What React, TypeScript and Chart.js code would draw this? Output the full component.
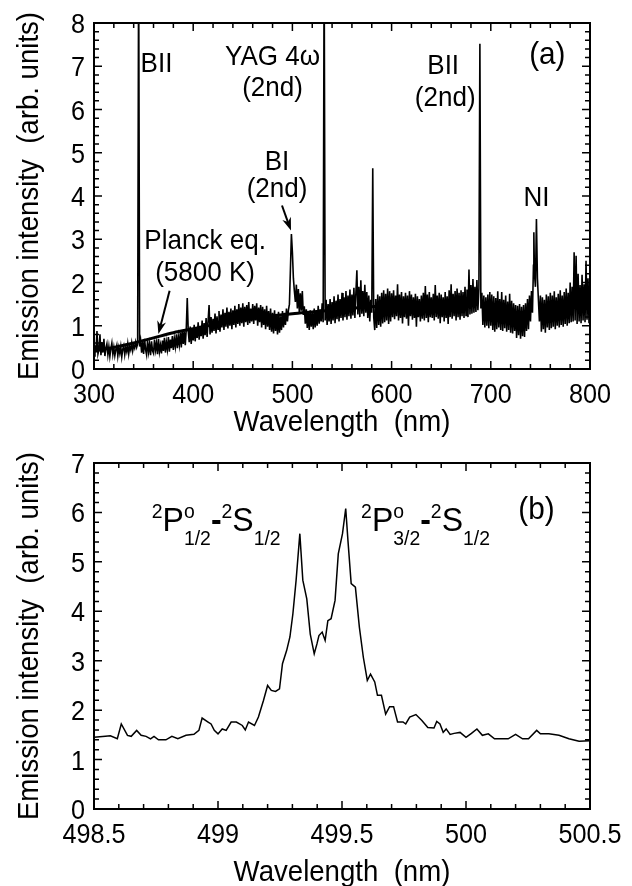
import React, { useEffect, useRef } from 'react';
import { Chart, registerables } from 'chart.js';
Chart.register(...registerables);

const FONT = "'Liberation Sans', Arial, Helvetica, sans-serif";

// ---------- Panel (a) data: spectrum sampled every 1 nm from 300 nm ----------
const specStartA = 300;
const specStepA = 1;
const specValsA = [
  0.30, 0.55, 0.40, 0.88, 0.35, 0.45, 0.80, 0.32, 0.62, 0.38,
  0.70, 0.30, 0.48, 0.58, 0.33, 0.52, 0.29, 0.47, 0.60, 0.34,
  0.50, 0.31, 0.45, 0.55, 0.30, 0.49, 0.36, 0.52, 0.28, 0.46,
  0.54, 0.33, 0.50, 0.40, 0.58, 0.35, 0.52, 0.44, 0.60, 0.42,
  0.55, 0.48, 0.62, 0.50, 0.58, 0.60, 0.52, 0.66, 0.38, 0.62,
  0.35, 0.70, 0.45, 0.33, 0.66, 0.40, 0.58, 0.32, 0.64, 0.42,
  0.36, 0.68, 0.44, 0.60, 0.34, 0.70, 0.40, 0.55, 0.36, 0.66,
  0.42, 0.72, 0.38, 0.62, 0.45, 0.74, 0.40, 0.68, 0.48, 0.76,
  0.44, 0.70, 0.52, 0.80, 0.48, 0.75, 0.56, 0.84, 0.50, 0.90,
  0.58, 0.86, 0.55, 0.92, 0.60, 0.88, 0.62, 0.98, 0.58, 0.94,
  0.66, 1.02, 0.64, 0.96, 0.72, 1.08, 0.68, 1.00, 0.76, 1.12,
  0.70, 1.06, 0.78, 1.18, 0.74, 1.10, 1.48, 0.80, 1.20, 0.84,
  1.16, 0.88, 1.28, 0.82, 1.22, 0.92, 1.34, 0.86, 1.26, 0.96,
  1.38, 0.90, 1.30, 0.98, 1.42, 0.94, 1.32, 1.00, 1.40, 0.92,
  1.36, 1.02, 1.46, 0.96, 1.38, 1.04, 1.50, 1.00, 1.42, 1.06,
  1.52, 0.98, 1.44, 1.08, 1.48, 1.02, 1.55, 1.06, 1.40, 1.10,
  1.50, 1.04, 1.46, 1.12, 1.52, 1.00, 1.42, 1.08, 1.48, 0.96,
  1.44, 1.02, 1.38, 0.92, 1.46, 0.98, 1.34, 0.90, 1.40, 0.86,
  1.30, 0.82, 1.36, 0.88, 1.26, 0.80, 1.32, 0.84, 1.22, 0.90,
  1.34, 0.96, 1.30, 1.02, 1.40, 1.10, 1.36, 1.50, 2.30, 2.60,
  2.70, 2.10, 1.80, 1.55, 1.95, 1.40, 1.85, 1.30, 1.75, 1.35,
  1.80, 1.25, 1.45, 1.05, 1.38, 0.95, 1.32, 0.90, 1.36, 0.98,
  1.30, 0.92, 1.40, 0.96, 1.34, 1.00, 1.46, 1.05, 1.38, 1.10,
  1.52, 1.08, 1.40, 1.12, 1.60, 1.02, 1.50, 1.10, 1.62, 1.04,
  1.55, 1.12, 1.68, 1.06, 1.58, 1.15, 1.72, 1.10, 1.62, 1.18,
  1.76, 1.12, 1.66, 1.20, 1.80, 1.14, 1.70, 1.22, 1.84, 1.16,
  1.72, 1.24, 1.88, 1.18, 1.76, 2.28, 1.26, 1.90, 1.20, 2.05,
  1.28, 1.80, 1.22, 1.95, 1.30, 1.78, 1.18, 1.70, 1.10, 1.60,
  1.30, 3.00, 1.20, 0.90, 1.62, 0.95, 1.72, 1.02, 1.68, 0.98,
  1.76, 1.05, 1.82, 1.08, 1.74, 1.12, 1.86, 1.04, 1.80, 1.10,
  1.75, 1.20, 1.82, 1.15, 1.70, 1.22, 1.96, 1.12, 1.72, 1.18,
  1.78, 1.05, 1.68, 1.20, 1.76, 1.16, 1.70, 1.00, 1.80, 1.22,
  1.72, 1.14, 1.66, 1.18, 1.74, 0.98, 1.68, 1.20, 1.62, 1.10,
  1.70, 1.16, 1.76, 1.12, 1.92, 1.18, 1.72, 1.08, 1.78, 1.20,
  1.66, 1.18, 1.74, 1.12, 1.94, 1.20, 1.70, 1.16, 1.76, 1.06,
  1.72, 1.20, 1.66, 1.10, 1.78, 1.18, 1.68, 1.04, 1.82, 1.20,
  1.96, 1.16, 1.74, 1.22, 1.80, 1.12, 1.86, 1.20, 1.76, 1.14,
  1.82, 1.22, 1.78, 1.18, 1.90, 1.24, 1.84, 1.20, 2.30, 1.26,
  1.94, 1.28, 2.08, 1.30, 1.90, 1.32, 2.06, 1.36, 1.86, 1.40,
  1.40, 1.76, 1.02, 1.70, 0.96, 1.66, 1.00, 1.72, 0.94, 1.78,
  1.00, 1.72, 0.90, 1.68, 0.86, 1.64, 0.92, 1.80, 0.96, 1.62,
  0.90, 1.78, 0.88, 1.60, 0.94, 1.70, 0.86, 1.56, 0.90, 1.74,
  0.84, 1.58, 0.82, 1.52, 0.88, 1.48, 0.72, 1.46, 0.78, 1.50,
  0.70, 1.44, 0.76, 1.48, 0.74, 1.52, 0.88, 1.62, 0.92, 1.70,
  1.10, 1.80, 1.30, 2.40, 2.20, 1.90, 3.00, 2.10, 1.60, 1.10,
  1.70, 0.86, 1.66, 0.92, 1.60, 0.84, 1.72, 0.96, 1.68, 0.90,
  1.76, 0.94, 1.70, 0.98, 1.80, 0.92, 1.66, 1.00, 1.74, 0.96,
  1.82, 1.02, 1.70, 0.98, 1.78, 1.04, 1.86, 1.00, 1.76, 1.06,
  2.00, 1.08, 1.90, 1.10, 2.70, 1.12, 2.62, 1.04, 2.20, 1.10,
  1.94, 1.06, 2.18, 1.12, 1.96, 1.08, 2.50, 1.14, 2.10, 1.06,
  1.60,
];
// sharp emission lines (wavelength, peak height)
const lineWlA = [345, 394, 499, 532, 581, 689, 743.4, 746];
const lineTopA = [9.5, 1.64, 3.12, 9.5, 4.64, 7.52, 3.16, 3.47];
// Planck fit (5800 K)
const planckWl = [300, 320, 340, 360, 380, 400, 420, 440, 460, 480, 500, 520, 540, 560, 580, 600];
const planckVals = [0.42, 0.5, 0.6, 0.72, 0.84, 0.93, 1.02, 1.1, 1.17, 1.23, 1.28, 1.32, 1.36, 1.4, 1.44, 1.46];
const xTicksA = [300, 400, 500, 600, 700, 800];
const yTicksA = [0, 1, 2, 3, 4, 5, 6, 7, 8];

// ---------- Panel (b) data ----------
const wlB = [
  498.5, 498.546, 498.566, 498.594, 498.61, 498.635, 498.65, 498.672, 498.69, 498.71,
  498.728, 498.742, 498.76, 498.79, 498.814, 498.838, 498.871, 498.903, 498.923, 498.936,
  498.96, 498.972, 498.985, 499.0, 499.017, 499.033, 499.053, 499.074, 499.098, 499.11,
  499.123, 499.147, 499.163, 499.183, 499.2, 499.215, 499.232, 499.248, 499.26, 499.277,
  499.29, 499.302, 499.315, 499.33, 499.342, 499.358, 499.372, 499.388, 499.399, 499.407,
  499.42, 499.432, 499.443, 499.456, 499.472, 499.485, 499.502, 499.515, 499.524, 499.537,
  499.554, 499.57, 499.586, 499.602, 499.615, 499.632, 499.643, 499.659, 499.676, 499.692,
  499.708, 499.724, 499.746, 499.757, 499.773, 499.798, 499.822, 499.846, 499.871, 499.882,
  499.895, 499.908, 499.92, 499.936, 499.952, 499.976, 500.0, 500.022, 500.044, 500.066,
  500.09, 500.115, 500.147, 500.17, 500.2, 500.228, 500.252, 500.285, 500.3, 500.334,
  500.375, 500.415, 500.456, 500.5,
];
const valsB = [
  1.45, 1.47, 1.48, 1.42, 1.72, 1.49, 1.47, 1.59, 1.49, 1.47,
  1.42, 1.47, 1.40, 1.40, 1.47, 1.42, 1.49, 1.51, 1.59, 1.84,
  1.76, 1.72, 1.59, 1.52, 1.62, 1.59, 1.76, 1.76, 1.69, 1.60,
  1.76, 1.69, 1.86, 2.19, 2.50, 2.40, 2.38, 2.43, 2.94, 3.21,
  3.48, 3.95, 4.63, 5.57, 4.63, 4.25, 3.54, 3.14, 3.34, 3.51,
  3.58, 3.41, 3.81, 3.85, 4.22, 5.16, 5.57, 6.08, 5.43, 4.56,
  4.49, 3.68, 3.07, 2.60, 2.73, 2.57, 2.30, 2.30, 1.92, 2.07,
  2.07, 1.76, 1.76, 1.72, 1.86, 1.91, 1.79, 1.65, 1.64, 1.77,
  1.72, 1.55, 1.62, 1.51, 1.53, 1.55, 1.45, 1.53, 1.62, 1.49,
  1.52, 1.42, 1.42, 1.42, 1.51, 1.42, 1.42, 1.59, 1.52, 1.52,
  1.49, 1.42, 1.37, 1.38,
];
const xTicksB = [498.5, 499, 499.5, 500, 500.5];
const yTicksB = [0, 1, 2, 3, 4, 5, 6, 7];

const X_TITLE = 'Wavelength  (nm)';
const Y_TITLE = 'Emission intensity  (arb. units)';

type Run = { t: string; size: number; dy?: number; over?: boolean; bold?: boolean };
type Label = { x: number; y: number; align: 'left' | 'center' | 'right'; sx: number; runs: Run[] };
type Arrow = { x1: number; y1: number; x2: number; y2: number };

const LS = 28;
const LSX = 0.93;
const lab = (x: number, y: number, t: string, size = LS, align: 'left' | 'center' = 'center'): Label => ({
  x, y, align, sx: LSX, runs: [{ t, size }],
});
const labelsA: Label[] = [
  lab(347, 6.87, 'BII', LS, 'left'),
  lab(480, 7.04, 'YAG 4ω'),
  lab(480, 6.31, '(2nd)'),
  lab(757, 7.06, '(a)', 32),
  lab(652, 6.81, 'BII'),
  lab(654, 6.09, '(2nd)'),
  lab(484.5, 4.61, 'BI'),
  lab(484.5, 3.98, '(2nd)'),
  lab(746, 3.76, 'NI'),
  lab(412, 2.78, 'Planck eq.'),
  lab(412, 2.03, '(5800 K)'),
];
const arrowsA: Arrow[] = [
  { x1: 489.5, y1: 3.78, x2: 498.6, y2: 3.2 },
  { x1: 376.2, y1: 1.81, x2: 364.9, y2: 0.81 },
];

const MS = 33;
const SS = 20;
const termRuns = (j: string): Run[] => [
  { t: '2', size: SS, dy: -13 },
  { t: 'P', size: MS },
  { t: 'o', size: SS, dy: -13, over: true },
  { t: j, size: SS, dy: 14 },
  { t: '-', size: MS, bold: true },
  { t: '2', size: SS, dy: -13 },
  { t: 'S', size: MS },
  { t: '1/2', size: SS, dy: 14 },
];
const labelsB: Label[] = [
  { x: 498.733, y: 5.62, align: 'left', sx: 0.97, runs: termRuns('1/2') },
  { x: 499.577, y: 5.62, align: 'left', sx: 0.97, runs: termRuns('3/2') },
  lab(500.284, 5.86, '(b)', 32),
];

const fontOf = (r: Run) => `${r.bold ? 'bold ' : ''}${r.size}px ${FONT}`;

function scaledText(ctx: CanvasRenderingContext2D, t: string, x: number, y: number, sx: number) {
  ctx.save();
  ctx.translate(x, y);
  ctx.scale(sx, 1);
  ctx.fillText(t, 0, 0);
  ctx.restore();
}

function drawLabel(ctx: CanvasRenderingContext2D, l: Label, px: number, py: number) {
  const widths = l.runs.map((r) => {
    ctx.font = fontOf(r);
    return ctx.measureText(r.t).width * l.sx;
  });
  let total = 0;
  let pend = 0;
  l.runs.forEach((r, i) => {
    if (r.over) pend = widths[i];
    else {
      total += Math.max(widths[i], pend);
      pend = 0;
    }
  });
  total += pend;
  let cx = l.align === 'left' ? px : l.align === 'center' ? px - total / 2 : px - total;
  pend = 0;
  ctx.textAlign = 'left';
  ctx.textBaseline = 'alphabetic';
  l.runs.forEach((r, i) => {
    ctx.font = fontOf(r);
    scaledText(ctx, r.t, cx, py + (r.dy || 0), l.sx);
    if (r.over) pend = widths[i];
    else {
      cx += Math.max(widths[i], pend);
      pend = 0;
    }
  });
}

function drawArrow(ctx: CanvasRenderingContext2D, x1: number, y1: number, x2: number, y2: number) {
  const a = Math.atan2(y2 - y1, x2 - x1);
  const hl = 13;
  const hw = 4.5;
  const c = Math.cos(a);
  const s = Math.sin(a);
  ctx.lineWidth = 2;
  ctx.beginPath();
  ctx.moveTo(x1, y1);
  ctx.lineTo(x2 - hl * 0.7 * c, y2 - hl * 0.7 * s);
  ctx.stroke();
  ctx.beginPath();
  ctx.moveTo(x2, y2);
  ctx.lineTo(x2 - hl * c + hw * s, y2 - hl * s - hw * c);
  ctx.lineTo(x2 - hl * 0.7 * c, y2 - hl * 0.7 * s);
  ctx.lineTo(x2 - hl * c - hw * s, y2 - hl * s + hw * c);
  ctx.closePath();
  ctx.fill();
}

const fmtTick = (v: number) => String(parseFloat(v.toFixed(3)));

const decorPlugin = {
  id: 'decor',
  afterDatasetsDraw(chart: any) {
    const o = chart.options.plugins.decor;
    const { ctx, chartArea: ca, scales } = chart;
    const xs = scales.x;
    const ys = scales.y;
    ctx.save();
    ctx.fillStyle = '#000';
    ctx.strokeStyle = '#000';
    // inward ticks on all four sides
    ctx.lineWidth = 1.5;
    ctx.beginPath();
    const nx = Math.round((xs.max - xs.min) / o.xMinor);
    for (let i = 0; i <= nx; i++) {
      const px = xs.getPixelForValue(xs.min + i * o.xMinor);
      const len = i % o.xPer === 0 ? 8 : 5;
      ctx.moveTo(px, ca.bottom);
      ctx.lineTo(px, ca.bottom - len);
      ctx.moveTo(px, ca.top);
      ctx.lineTo(px, ca.top + len);
    }
    const ny = Math.round((ys.max - ys.min) / o.yMinor);
    for (let i = 0; i <= ny; i++) {
      const py = ys.getPixelForValue(ys.min + i * o.yMinor);
      const len = i % o.yPer === 0 ? 8 : 5;
      ctx.moveTo(ca.left, py);
      ctx.lineTo(ca.left + len, py);
      ctx.moveTo(ca.right, py);
      ctx.lineTo(ca.right - len, py);
    }
    ctx.stroke();
    ctx.lineWidth = 2;
    ctx.strokeRect(ca.left, ca.top, ca.right - ca.left, ca.bottom - ca.top);
    // tick labels
    const TS = 28;
    const TSX = 0.9;
    ctx.font = `${TS}px ${FONT}`;
    ctx.textBaseline = 'alphabetic';
    for (const v of o.xTicks as number[]) {
      const t = fmtTick(v);
      const w = ctx.measureText(t).width * TSX;
      scaledText(ctx, t, xs.getPixelForValue(v) - w / 2, ca.bottom + 34, TSX);
    }
    for (const v of o.yTicks as number[]) {
      const t = fmtTick(v);
      const w = ctx.measureText(t).width * TSX;
      scaledText(ctx, t, ca.left - 9 - w, ys.getPixelForValue(v) + 10, TSX);
    }
    // annotations
    for (const l of o.labels as Label[]) {
      drawLabel(ctx, l, xs.getPixelForValue(l.x), ys.getPixelForValue(l.y));
    }
    for (const ar of o.arrows as Arrow[]) {
      drawArrow(ctx, xs.getPixelForValue(ar.x1), ys.getPixelForValue(ar.y1), xs.getPixelForValue(ar.x2), ys.getPixelForValue(ar.y2));
    }
    // axis titles
    const TT = 30;
    const TTX = 0.92;
    ctx.font = `${TT}px ${FONT}`;
    ctx.textBaseline = 'middle';
    const xw = ctx.measureText(X_TITLE).width * TTX;
    scaledText(ctx, X_TITLE, (ca.left + ca.right) / 2 - xw / 2, ca.bottom + o.xTitleOffset, TTX);
    const yw = ctx.measureText(Y_TITLE).width * TTX;
    ctx.translate(o.yTitleX, (ca.top + ca.bottom) / 2);
    ctx.rotate(-Math.PI / 2);
    scaledText(ctx, Y_TITLE, -yw / 2, 0, TTX);
    ctx.restore();
  },
};

function buildConfig(p: any): any {
  const hidden = { display: false, drawTicks: false };
  return {
    type: 'line',
    data: { datasets: p.datasets },
    plugins: [decorPlugin],
    options: {
      responsive: false,
      maintainAspectRatio: false,
      animation: false,
      devicePixelRatio: 1,
      layout: { padding: { top: 23, right: 42, left: 0, bottom: 0 } },
      elements: { point: { radius: 0 } },
      plugins: {
        legend: { display: false },
        tooltip: { enabled: false },
        decor: p.decor,
      },
      scales: {
        x: {
          type: 'linear',
          min: p.xMin,
          max: p.xMax,
          afterFit: (s: any) => {
            s.height = p.height - 369;
          },
          grid: hidden,
          border: { display: false },
          ticks: { display: false },
        },
        y: {
          type: 'linear',
          min: 0,
          max: p.yMax,
          afterFit: (s: any) => {
            s.width = 94;
          },
          grid: hidden,
          border: { display: false },
          ticks: { display: false },
        },
      },
    },
  };
}

function pointsA() {
  const grid = specValsA
    .map((v, i) => ({ x: specStartA + i * specStepA, y: v }))
    .filter((pt) => !lineWlA.includes(pt.x));
  const lines = lineWlA.map((w, i) => ({ x: w, y: lineTopA[i] }));
  return [...grid, ...lines].sort((a, b) => a.x - b.x);
}

export default function App() {
  const refA = useRef<HTMLCanvasElement>(null);
  const refB = useRef<HTMLCanvasElement>(null);
  useEffect(() => {
    const a = new Chart(
      refA.current!,
      buildConfig({
        height: 440,
        xMin: 300,
        xMax: 800,
        yMax: 8,
        datasets: [
          {
            data: pointsA(),
            borderColor: '#000',
            borderWidth: 1.6,
            pointRadius: 0,
            tension: 0,
          },
          {
            data: planckWl.map((w, i) => ({ x: w, y: planckVals[i] })),
            borderColor: '#000',
            borderWidth: 3,
            pointRadius: 0,
            cubicInterpolationMode: 'monotone',
          },
        ],
        decor: {
          xMinor: 20,
          xPer: 5,
          yMinor: 0.2,
          yPer: 5,
          xTicks: xTicksA,
          yTicks: yTicksA,
          labels: labelsA,
          arrows: arrowsA,
          xTitleOffset: 54,
          yTitleX: 30,
        },
      })
    );
    const b = new Chart(
      refB.current!,
      buildConfig({
        height: 446,
        xMin: 498.5,
        xMax: 500.5,
        yMax: 7,
        datasets: [
          {
            data: wlB.map((w, i) => ({ x: w, y: valsB[i] })),
            borderColor: '#000',
            borderWidth: 1.5,
            pointRadius: 0,
            tension: 0,
          },
        ],
        decor: {
          xMinor: 0.1,
          xPer: 5,
          yMinor: 0.2,
          yPer: 5,
          xTicks: xTicksB,
          yTicks: yTicksB,
          labels: labelsB,
          arrows: [],
          xTitleOffset: 64,
          yTitleX: 30,
        },
      })
    );
    return () => {
      a.destroy();
      b.destroy();
    };
  }, []);
  return (
    <div style={{ position: 'absolute', left: 0, top: 0, width: 632, height: 886, background: '#fff', overflow: 'hidden' }}>
      <canvas ref={refA} width={632} height={440} style={{ position: 'absolute', left: 0, top: 0 }} />
      <canvas ref={refB} width={632} height={446} style={{ position: 'absolute', left: 0, top: 440 }} />
    </div>
  );
}
